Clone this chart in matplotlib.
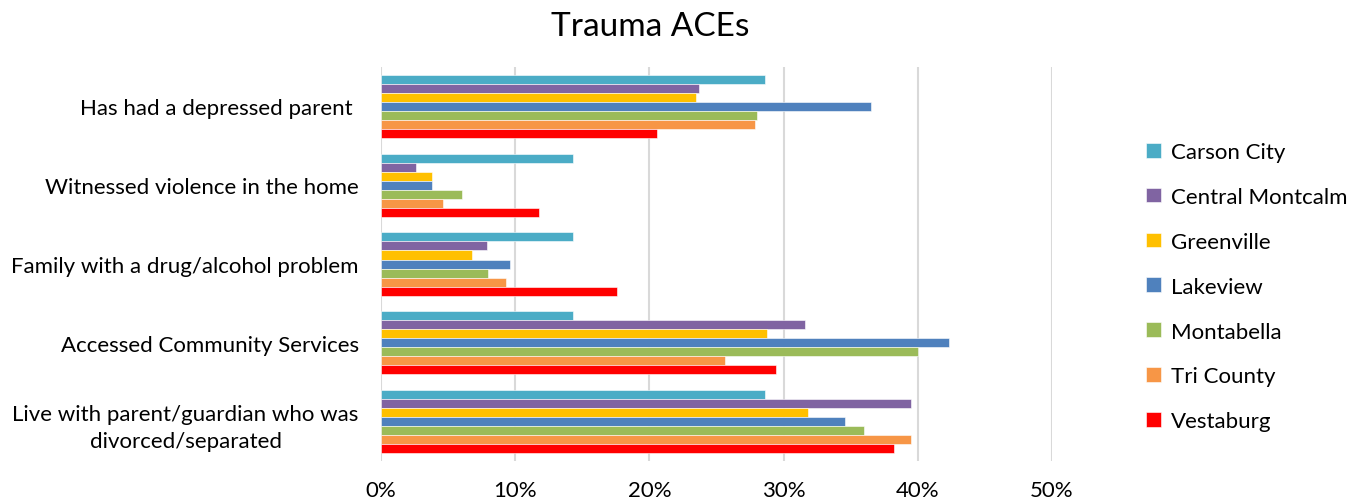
import matplotlib
matplotlib.use('Agg')
import matplotlib.pyplot as plt
from matplotlib.ticker import FuncFormatter

categories = ['Has had a depressed parent ', 'Witnessed violence in the home',
              'Family with a drug/alcohol problem', 'Accessed Community Services',
              'Live with parent/guardian who was\ndivorced/separated']
schools = ['Carson City', 'Central Montcalm', 'Greenville', 'Lakeview',
           'Montabella', 'Tri County', 'Vestaburg']
colors = ['#4BACC6', '#8064A2', '#FFC000', '#4F81BD', '#9BBB59', '#F79646', '#FF0000']

carson_city = [28.6, 14.3, 14.3, 14.3, 28.6]
central_montcalm = [23.7, 2.6, 7.9, 31.6, 39.5]
greenville = [23.5, 3.8, 6.8, 28.8, 31.8]
lakeview = [36.5, 3.8, 9.6, 42.3, 34.6]
montabella = [28.0, 6.0, 8.0, 40.0, 36.0]
tri_county = [27.9, 4.6, 9.3, 25.6, 39.5]
vestaburg = [20.6, 11.8, 17.6, 29.4, 38.2]
series = [carson_city, central_montcalm, greenville, lakeview, montabella, tri_county, vestaburg]

plt.rcParams['font.family'] = ['Lato', 'DejaVu Sans']

fig = plt.figure(figsize=(13.57, 5.02), dpi=100)
ax = fig.add_axes([0.2808, 0.0797, 0.4944, 0.7848])

h = 0.8 / len(schools)
for j, (name, vals) in enumerate(zip(schools, series)):
    ys = [i - 0.4 + (j + 0.5) * h for i in range(len(categories))]
    ax.barh(ys, vals, height=h, color=colors[j], label=name,
            edgecolor='white', linewidth=0.4, zorder=3)

ax.set_xlim(0, 50)
ax.set_ylim(len(categories) - 0.5, -0.5)
ax.set_xticks(range(0, 51, 10))
ax.xaxis.set_major_formatter(FuncFormatter(lambda v, p: f'{int(v)}%'))
ax.set_yticks(range(len(categories)))
ax.set_yticklabels(categories, fontsize=16, linespacing=1.45, multialignment='center')
ax.grid(axis='x', color='#D9D9D9', linewidth=1.5, zorder=0)
for s in ax.spines.values():
    s.set_visible(False)
ax.tick_params(axis='y', length=0, pad=16)
ax.tick_params(axis='x', length=0, pad=14, labelsize=16)

fig.text(0.479, 0.946, 'Trauma ACEs', fontsize=24, ha='center', va='center')

leg = fig.legend(loc='upper left', bbox_to_anchor=(0.83, 0.755), frameon=False,
                 fontsize=16, handlelength=0.65, handleheight=0.65,
                 labelspacing=1.12, handletextpad=0.45)

fig.savefig('out.png', dpi=100)
